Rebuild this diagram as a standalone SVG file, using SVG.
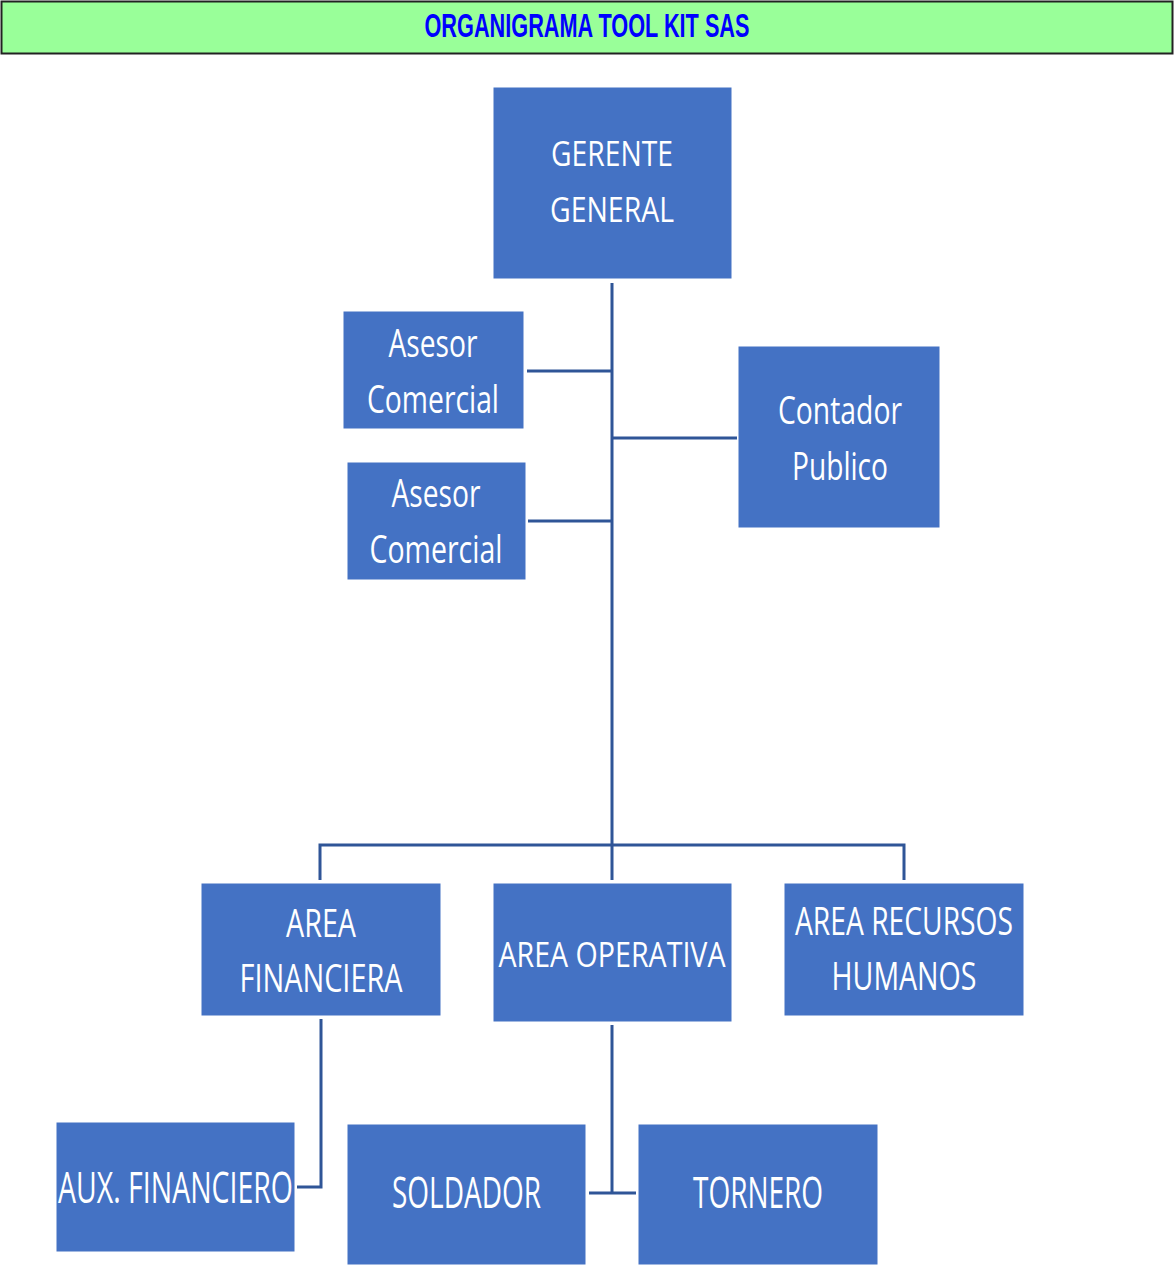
<svg xmlns="http://www.w3.org/2000/svg" width="1174" height="1266" viewBox="0 0 1174 1266">
<style>
.box{fill:#4472C4;stroke:#4472C4;stroke-width:1}
.t{fill:#FFFFFF;font-family:"Open Sans","DejaVu Sans",sans-serif;text-anchor:middle}
.c{stroke:#2F5597;stroke-width:3;fill:none}
.title{fill:#0000FF;font-family:"Liberation Sans",Arial,sans-serif;font-weight:bold;text-anchor:middle}
</style>
<rect x="0" y="0" width="1174" height="1266" fill="#FFFFFF"/>
<g id="title">
<rect x="1.5" y="1.5" width="1171" height="52" fill="#99FF99" stroke="#222222" stroke-width="2"/>
<text class="title" x="587" y="37" font-size="34" textLength="325" lengthAdjust="spacingAndGlyphs">ORGANIGRAMA TOOL KIT SAS</text>
</g>
<g id="connectors">
<polyline class="c" points="612,283 612,880"/>
<polyline class="c" points="527,371 612,371"/>
<polyline class="c" points="528,521 612,521"/>
<polyline class="c" points="612,438 737,438"/>
<polyline class="c" points="320,880 320,845 904,845 904,880"/>
<polyline class="c" points="321,1019 321,1187 297,1187"/>
<polyline class="c" points="612,1025 612,1193"/>
<polyline class="c" points="589,1193 636,1193"/>
</g>
<g id="gerente">
<rect class="box" x="494" y="88" width="237" height="190"/>
<text class="t" x="612" y="166" font-size="34" textLength="122" lengthAdjust="spacingAndGlyphs">GERENTE</text>
<text class="t" x="612" y="222" font-size="34" textLength="124" lengthAdjust="spacingAndGlyphs">GENERAL</text>
</g>
<g id="asesor1">
<rect class="box" x="344" y="312" width="179" height="116"/>
<text class="t" x="433" y="357" font-size="38" textLength="89" lengthAdjust="spacingAndGlyphs">Asesor</text>
<text class="t" x="433" y="413" font-size="38" textLength="132" lengthAdjust="spacingAndGlyphs">Comercial</text>
</g>
<g id="asesor2">
<rect class="box" x="348" y="463" width="177" height="116"/>
<text class="t" x="436" y="507" font-size="38" textLength="89" lengthAdjust="spacingAndGlyphs">Asesor</text>
<text class="t" x="436" y="563" font-size="38" textLength="133" lengthAdjust="spacingAndGlyphs">Comercial</text>
</g>
<g id="contador">
<rect class="box" x="739" y="347" width="200" height="180"/>
<text class="t" x="840" y="424" font-size="38" textLength="124" lengthAdjust="spacingAndGlyphs">Contador</text>
<text class="t" x="840" y="480" font-size="38" textLength="96" lengthAdjust="spacingAndGlyphs">Publico</text>
</g>
<g id="area-financiera">
<rect class="box" x="202" y="884" width="238" height="131"/>
<text class="t" x="321" y="937" font-size="39" textLength="70" lengthAdjust="spacingAndGlyphs">AREA</text>
<text class="t" x="321" y="992" font-size="39" textLength="163" lengthAdjust="spacingAndGlyphs">FINANCIERA</text>
</g>
<g id="area-operativa">
<rect class="box" x="494" y="884" width="237" height="137"/>
<text class="t" x="612" y="967" font-size="35" textLength="227" lengthAdjust="spacingAndGlyphs">AREA OPERATIVA</text>
</g>
<g id="area-rrhh">
<rect class="box" x="785" y="884" width="238" height="131"/>
<text class="t" x="904" y="935" font-size="39" textLength="218" lengthAdjust="spacingAndGlyphs">AREA RECURSOS</text>
<text class="t" x="904" y="990" font-size="39" textLength="145" lengthAdjust="spacingAndGlyphs">HUMANOS</text>
</g>
<g id="aux-financiero">
<rect class="box" x="57" y="1123" width="237" height="128"/>
<text class="t" transform="translate(175.5 1203) scale(0.645 1)" x="0" y="0" font-size="44" textLength="364" lengthAdjust="spacingAndGlyphs">AUX. FINANCIERO</text>
</g>
<g id="soldador">
<rect class="box" x="348" y="1125" width="237" height="139"/>
<text class="t" x="466.5" y="1208" font-size="43" textLength="149" lengthAdjust="spacingAndGlyphs">SOLDADOR</text>
</g>
<g id="tornero">
<rect class="box" x="639" y="1125" width="238" height="139"/>
<text class="t" x="758" y="1208" font-size="43" textLength="130" lengthAdjust="spacingAndGlyphs">TORNERO</text>
</g>
</svg>
